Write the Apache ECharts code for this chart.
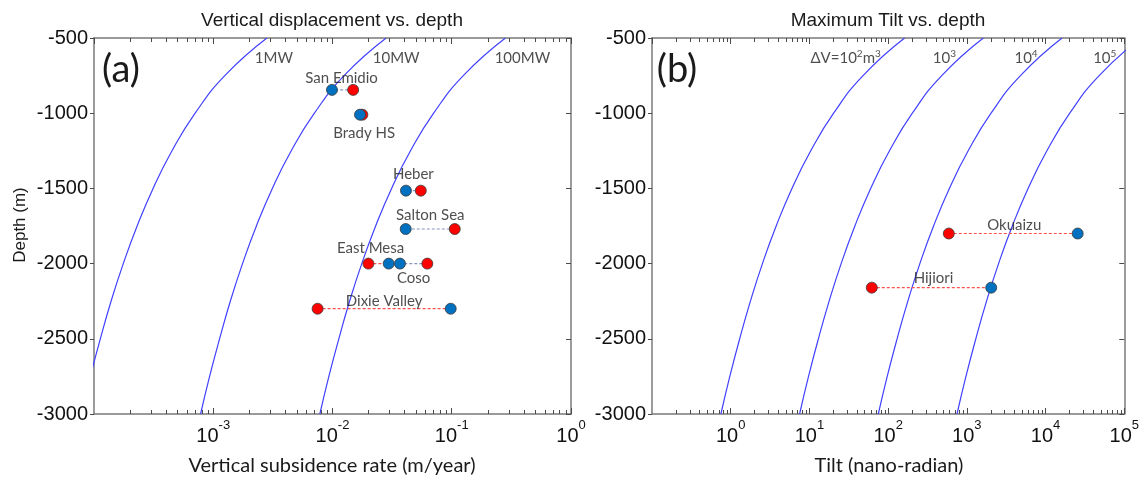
<!DOCTYPE html>
<html><head><meta charset="utf-8">
<script src="https://cdn.jsdelivr.net/npm/echarts@6/dist/echarts.min.js"></script>
<style>html,body{margin:0;padding:0;background:#fff}#c{width:1142px;height:478px}</style>
</head><body><div id="c"></div>
<script>
// ---------------- data ----------------
const curveDepths = [-500, -750, -1000, -1250, -1500, -1750, -2000, -2250, -2500, -2750, -3000];
const rate1MW   = [0.00282, 0.00125, 0.000705, 0.000451, 0.000313, 0.00023, 0.000176, 0.000139, 0.000113, 0.0000932, 0.0000783];
const rate10MW  = [0.0282, 0.0125, 0.00705, 0.00451, 0.00313, 0.0023, 0.00176, 0.00139, 0.00113, 0.000932, 0.000783];
const rate100MW = [0.282, 0.125, 0.0705, 0.0451, 0.0313, 0.023, 0.0176, 0.0139, 0.0113, 0.00932, 0.00783];
const powerLabels = ['1MW', '10MW', '100MW'];

const tilt1e2 = [162, 48, 20.3, 10.4, 6.0, 3.78, 2.53, 1.78, 1.30, 0.974, 0.75];
const tilt1e3 = [1620, 480, 203, 104, 60, 37.8, 25.3, 17.8, 13.0, 9.74, 7.5];
const tilt1e4 = [16200, 4800, 2030, 1040, 600, 378, 253, 178, 130, 97.4, 75];
const tilt1e5 = [162000, 48000, 20300, 10400, 6000, 3780, 2530, 1780, 1300, 974, 750];
const volumeLabels = ['{t|ΔV=10}{s|2}{t|m}{s|3}', '{t|10}{s|3}', '{t|10}{s|4}', '{t|10}{s|5}'];

const sites     = ['San Emidio', 'Brady HS', 'Heber', 'Salton Sea', 'East Mesa', 'Coso', 'Dixie Valley'];
const siteDepth = [-845, -1010, -1515, -1770, -2000, -2000, -2300];
const siteBlue  = [0.0099, 0.0170, 0.0413, 0.0411, 0.0296, 0.0368, 0.098];
const siteRed   = [0.0149, 0.0178, 0.055, 0.106, 0.020, 0.0624, 0.0075];

const tiltSites = ['Okuaizu', 'Hijiori'];
const tiltDepth = [-1800, -2160];
const tiltBlue  = [25600, 2040];
const tiltRed   = [590, 62];

const depthMin = -3000, depthMax = -500, depthStep = 500;
const rateMin = 1e-4, rateMax = 1;
const tiltMin = 1e-1, tiltMax = 1e5;

// ---------------- layout / style ----------------
const siteLabelOffset = [[-1, -12], [3, 18], [0, -16], [0, -14], [-8, -15], [0, 15], [0, -8]];
const tiltLabelOffset = [[1, -8], [2, -10]];
const powerLabelOffset = [[7, 20], [10, 20], [17, 20]];
const volumeLabelOffset = [[-59, 20], [-39, 20], [-36, 20], [-36, 20]];

const ARIAL = 'Liberation Sans, Arial, sans-serif';
const CALIBRI = 'Lato, Carlito, Calibri, sans-serif';
const CURVE = '#4040ff';
const AXIS = '#7a7a7a';
const TICK = '#4a4a4a';
const BLUE = '#0070c0', RED = '#ff0000';

const chart = echarts.init(document.getElementById('c'), null, {renderer: 'canvas'});

function minorValues(lo, hi) {
  const out = [];
  for (let e = Math.round(Math.log10(lo)); e < Math.round(Math.log10(hi)); e++) {
    for (let m = 2; m <= 9; m++) out.push([m * Math.pow(10, e), depthMin]);
  }
  return out;
}

function xAxes(gi, lo, hi) {
  const common = {
    type: 'log', logBase: 10, min: lo, max: hi, gridIndex: gi,
    axisLine: {show: true, lineStyle: {color: AXIS, width: 1.5}},
    splitLine: {show: false}
  };
  return [
    Object.assign({}, common, {
      position: 'bottom',
      axisTick: {show: true, inside: true, length: 6, lineStyle: {color: TICK, width: 1}},
      axisLabel: {
        show: true, margin: 12, showMinLabel: false,
        formatter: v => '{b|10}{s|' + Math.round(Math.log10(v)) + '}',
        rich: {
          b: {fontFamily: ARIAL, fontSize: 20, lineHeight: 20, verticalAlign: 'bottom', color: '#111'},
          s: {fontFamily: ARIAL, fontSize: 13, lineHeight: 13, padding: [0, 0, 14, 0], verticalAlign: 'bottom', color: '#111'}
        }
      }
    }),
    Object.assign({}, common, {
      position: 'top',
      axisTick: {show: true, inside: true, length: 6, lineStyle: {color: TICK, width: 1}},
      axisLabel: {show: false}
    })
  ];
}

function yAxes(gi) {
  const common = {
    type: 'value', min: depthMin, max: depthMax, interval: depthStep, gridIndex: gi,
    axisLine: {show: true, lineStyle: {color: AXIS, width: 1.5}},
    splitLine: {show: false}
  };
  return [
    Object.assign({}, common, {
      position: 'left',
      axisTick: {show: true, inside: false, length: 4, lineStyle: {color: TICK}},
      axisLabel: {show: true, margin: 6, formatter: v => String(v), fontFamily: ARIAL, fontSize: 20, color: '#111'}
    }),
    Object.assign({}, common, {
      position: 'right',
      axisTick: {show: true, inside: true, length: 5, lineStyle: {color: TICK}},
      axisLabel: {show: false}
    })
  ];
}

function curveSeries(xi, yi, vals) {
  return {
    type: 'line', xAxisIndex: xi, yAxisIndex: yi, smooth: true, symbol: 'none', silent: true,
    data: curveDepths.map((d, i) => [vals[i], d]),
    lineStyle: {color: CURVE, width: 1.2}, z: 1
  };
}

function minorTickSeries(xi, yi, lo, hi) {
  return {
    type: 'custom', xAxisIndex: xi, yAxisIndex: yi, silent: true, clip: false,
    data: minorValues(lo, hi),
    renderItem: (params, api) => {
      const v = api.value(0);
      const b = api.coord([v, depthMin]);
      const t = api.coord([v, depthMax]);
      const x = Math.round(b[0]) + 0.5;
      return {type: 'group', children: [
        {type: 'line', shape: {x1: x, y1: b[1], x2: x, y2: b[1] - 4}, style: {stroke: TICK, lineWidth: 1}},
        {type: 'line', shape: {x1: x, y1: t[1], x2: x, y2: t[1] + 4}, style: {stroke: TICK, lineWidth: 1}}
      ]};
    }, z: 6
  };
}

function connectorSeries(xi, yi, reds, blues, depths) {
  return depths.map((d, i) => ({
    type: 'line', xAxisIndex: xi, yAxisIndex: yi, symbol: 'none', silent: true,
    data: [[reds[i], d], [blues[i], d]],
    lineStyle: {type: [3, 2], width: 1.2, color: reds[i] < blues[i] ? '#ff5050' : '#8796c0'}, z: 2
  }));
}

function markerSeries(xi, yi, vals, depths, color) {
  return {
    type: 'scatter', xAxisIndex: xi, yAxisIndex: yi, symbol: 'circle', symbolSize: 11, silent: true,
    data: vals.map((v, i) => [v, depths[i]]),
    itemStyle: {color: color, borderColor: '#3a3a3a', borderWidth: 0.8, opacity: 1}, z: 4
  };
}

function nameLabelSeries(xi, yi, names, reds, blues, depths, offsets) {
  return {
    type: 'scatter', xAxisIndex: xi, yAxisIndex: yi, symbolSize: 1, silent: true, clip: false,
    itemStyle: {color: 'rgba(0,0,0,0)'},
    data: names.map((n, i) => ({name: n, value: [Math.sqrt(reds[i] * blues[i]), depths[i]], label: {offset: offsets[i]}})),
    label: {show: true, position: 'inside', formatter: '{b}', fontFamily: CALIBRI, fontSize: 15, color: '#222'},
    z: 5
  };
}

function curveLabelSeries(xi, yi, curves, labels, offsets, rich) {
  return {
    type: 'scatter', xAxisIndex: xi, yAxisIndex: yi, symbolSize: 1, silent: true, clip: false,
    itemStyle: {color: 'rgba(0,0,0,0)'},
    data: curves.map((c, i) => ({name: labels[i], value: [c[0], curveDepths[0]], label: {offset: offsets[i]}})),
    label: {show: true, position: 'inside', formatter: '{b}', fontFamily: CALIBRI, fontSize: 15, color: '#222', rich: rich},
    z: 5
  };
}

const supRich = {
  t: {fontFamily: CALIBRI, fontSize: 15, lineHeight: 15, verticalAlign: 'bottom', color: '#222'},
  s: {fontFamily: CALIBRI, fontSize: 10, lineHeight: 10, padding: [0, 0, 7, 0], verticalAlign: 'bottom', color: '#222'}
};

const series = [].concat(
  [curveSeries(0, 0, rate1MW), curveSeries(0, 0, rate10MW), curveSeries(0, 0, rate100MW)],
  [curveSeries(2, 2, tilt1e2), curveSeries(2, 2, tilt1e3), curveSeries(2, 2, tilt1e4), curveSeries(2, 2, tilt1e5)],
  [minorTickSeries(0, 0, rateMin, rateMax), minorTickSeries(2, 2, tiltMin, tiltMax)],
  connectorSeries(0, 0, siteRed, siteBlue, siteDepth),
  connectorSeries(2, 2, tiltRed, tiltBlue, tiltDepth),
  [markerSeries(0, 0, siteRed, siteDepth, RED), markerSeries(0, 0, siteBlue, siteDepth, BLUE)],
  [markerSeries(2, 2, tiltRed, tiltDepth, RED), markerSeries(2, 2, tiltBlue, tiltDepth, BLUE)],
  [nameLabelSeries(0, 0, sites, siteRed, siteBlue, siteDepth, siteLabelOffset)],
  [nameLabelSeries(2, 2, tiltSites, tiltRed, tiltBlue, tiltDepth, tiltLabelOffset)],
  [curveLabelSeries(0, 0, [rate1MW, rate10MW, rate100MW], powerLabels, powerLabelOffset, null)],
  [curveLabelSeries(2, 2, [tilt1e2, tilt1e3, tilt1e4, tilt1e5], volumeLabels, volumeLabelOffset, supRich)]
);

const txt = (text, x, y, font, size, extra) => Object.assign({
  type: 'text', x: x, y: y, silent: true,
  style: {text: text, fontFamily: font, fontSize: size, fill: '#1a1a1a', align: 'center', verticalAlign: 'middle'}
}, extra || {});

chart.setOption({
  animation: false,
  backgroundColor: '#fff',
  grid: [
    {left: 94, top: 38, width: 477, height: 376, containLabel: false},
    {left: 652, top: 38, width: 473, height: 376, containLabel: false}
  ],
  xAxis: [].concat(xAxes(0, rateMin, rateMax), xAxes(1, tiltMin, tiltMax)),
  yAxis: [].concat(yAxes(0), yAxes(1)),
  series: series,
  graphic: [
    txt('Vertical displacement vs. depth', 332, 21, ARIAL, 19),
    txt('Maximum Tilt vs. depth', 888, 21, ARIAL, 19),
    txt('(a)', 121, 70, CALIBRI, 38),
    txt('(b)', 677, 70, CALIBRI, 38),
    txt('Depth (m)', 20, 225, ARIAL, 17, {rotation: Math.PI / 2}),
    txt('Vertical subsidence rate (m/year)', 332, 466, CALIBRI, 20),
    txt('Tilt (nano-radian)', 889, 466, CALIBRI, 20)
  ]
});
</script></body></html>
